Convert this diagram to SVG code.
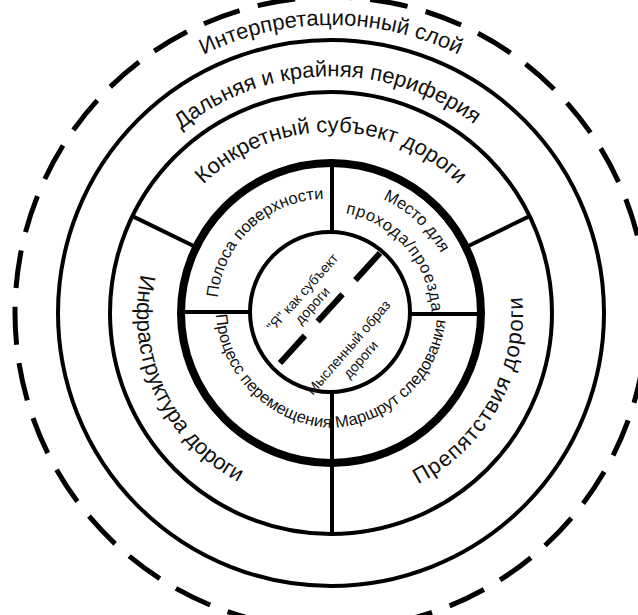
<svg xmlns="http://www.w3.org/2000/svg" width="638" height="615" viewBox="0 0 638 615">
<style>
.ln{fill:none;stroke:#000;stroke-width:4}
.thick{fill:none;stroke:#000;stroke-width:8}
.dash{fill:none;stroke:#000;stroke-width:5;stroke-dasharray:38 18.73;stroke-dashoffset:3.8}
.t{font-family:"Liberation Sans",Arial,sans-serif;fill:#111}
.big{font-size:22px}
.mid{font-size:16.5px}
.sm{font-size:14px}
</style>
<defs>
<path id="p1" d="M 43 313 A 288 288 0 0 1 619 313"/>
<path id="p2" d="M 93.04 317.15 A 238 238 0 0 1 568.96 308.85"/>
<path id="p3" d="M 150 313 A 181 181 0 0 1 512 313"/>
<path id="p4" d="M 207.6 165.9 A 190 190 0 0 0 364.3 500.1"/>
<path id="p5" d="M 284.6 499.3 A 192 192 0 0 0 464.4 174.9"/>
<path id="p6" d="M 238.7 372.9 A 109 109 0 0 1 397.2 225.2"/>
<path id="p7" d="M 294.2 192.5 A 127 127 0 0 1 453.8 341.3"/>
<path id="p8" d="M 268.7 227.2 A 107 107 0 0 1 407.2 386.6"/>
<path id="p9" d="M 232.2 244.9 A 122 122 0 0 0 400.5 410.8"/>
<path id="p10" d="M 261.1 410.6 A 122 122 0 0 0 430 245.2"/>
</defs>
<g id="layer-interpretation">
<circle class="dash" cx="331" cy="313" r="316"/>
<text class="t big" text-anchor="middle"><textPath href="#p1" startOffset="50%">Интерпретационный слой</textPath></text>
</g>
<g id="layer-periphery">
<circle class="ln" cx="331" cy="313" r="273"/>
<text class="t big" text-anchor="middle"><textPath href="#p2" startOffset="50%">Дальняя и крайняя периферия</textPath></text>
</g>
<g id="layer-subject">
<circle class="ln" cx="331" cy="313" r="221"/>
<text class="t big" text-anchor="middle"><textPath href="#p3" startOffset="50%">Конкретный субъект дороги</textPath></text>
</g>
<g id="sector-infrastructure">
<text class="t big" text-anchor="middle"><textPath href="#p4" startOffset="50%">Инфраструктура дороги</textPath></text>
</g>
<g id="sector-obstacles">
<text class="t big" text-anchor="middle" letter-spacing="1.2"><textPath href="#p5" startOffset="50%">Препятствия дороги</textPath></text>
</g>
<g id="ring-road">
<circle class="thick" cx="331" cy="313" r="150"/>
</g>
<g id="sector-surface">
<text class="t mid" text-anchor="middle"><textPath href="#p6" startOffset="50%">Полоса поверхности</textPath></text>
</g>
<g id="sector-place">
<text class="t mid" text-anchor="middle"><textPath href="#p7" startOffset="50%">Место для</textPath></text>
<text class="t mid" text-anchor="middle" letter-spacing="0.8"><textPath href="#p8" startOffset="50%">прохода/проезда</textPath></text>
</g>
<g id="sector-process">
<text class="t mid" text-anchor="middle"><textPath href="#p9" startOffset="50%">Процесс перемещения</textPath></text>
</g>
<g id="sector-route">
<text class="t mid" text-anchor="middle"><textPath href="#p10" startOffset="50%">Маршрут следования</textPath></text>
</g>
<g id="core">
<circle class="ln" cx="330" cy="312" r="80"/>
<line x1="280" y1="363" x2="380" y2="253" stroke="#000" stroke-width="6" stroke-dasharray="37 19"/>
</g>
<g id="core-self">
<g transform="translate(303,293) rotate(-48)">
<text class="t sm" text-anchor="middle" x="0" y="4">"Я" как субъект</text>
<text class="t sm" text-anchor="middle" x="-3" y="20">дороги</text>
</g>
</g>
<g id="core-image">
<g transform="translate(349,348) rotate(-49)">
<text class="t sm" text-anchor="middle" x="0" y="4">Мысленный образ</text>
<text class="t sm" text-anchor="middle" x="-1" y="21">дороги</text>
</g>
</g>
<g id="connectors">
<line class="ln" x1="332" y1="163" x2="332" y2="232"/>
<line class="ln" x1="332" y1="392" x2="332" y2="535"/>
<line class="ln" x1="181" y1="312" x2="250" y2="312"/>
<line class="ln" x1="410" y1="314" x2="480" y2="314"/>
<line class="ln" x1="196.2" y1="247.2" x2="132.4" y2="216.1"/>
<line class="ln" x1="465.8" y1="247.2" x2="529.6" y2="216.1"/>
</g>
</svg>
